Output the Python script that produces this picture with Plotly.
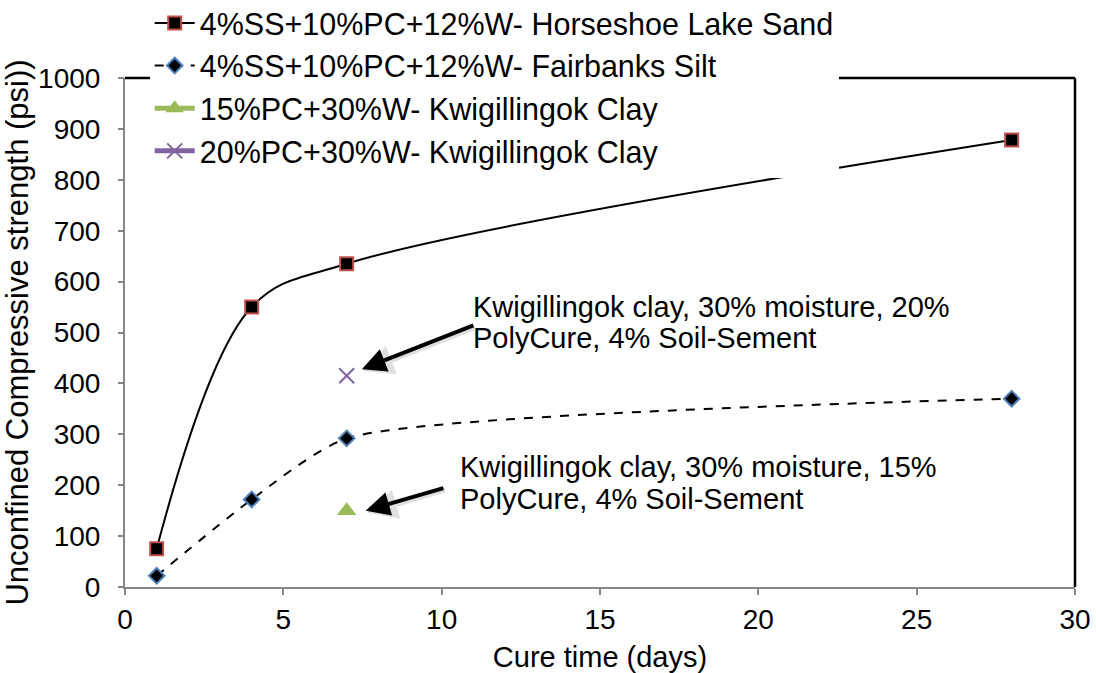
import plotly.graph_objects as go

days = [1, 4, 7, 28]
sand = [75, 550, 635, 878]
silt = [22, 172, 292, 370]
clay15_x = [7]
clay15_y = [150]
clay20_x = [7]
clay20_y = [415]

names = [
    "4%SS+10%PC+12%W- Horseshoe Lake Sand",
    "4%SS+10%PC+12%W- Fairbanks Silt",
    "15%PC+30%W- Kwigillingok Clay",
    "20%PC+30%W- Kwigillingok Clay",
]
note20 = ["Kwigillingok clay, 30% moisture, 20%", "PolyCure, 4% Soil-Sement"]
note15 = ["Kwigillingok clay, 30% moisture, 15%", "PolyCure, 4% Soil-Sement"]

FONT = "Liberation Sans, Arial, sans-serif"
GRAY = "#868686"

fig = go.Figure()
fig.add_trace(go.Scatter(
    x=days, y=sand, name=names[0], mode="lines+markers", legendgroup="a",
    line=dict(color="black", width=2, shape="spline", smoothing=1),
    marker=dict(symbol="square", size=13, color="black", line=dict(color="#C0504D", width=2)),
))
fig.add_trace(go.Scatter(
    x=days, y=silt, name=names[1], mode="lines+markers", legendgroup="b",
    line=dict(color="black", width=2, dash="dash", shape="spline", smoothing=0.6),
    marker=dict(symbol="diamond", size=12, color="black", line=dict(color="#4F81BD", width=2)),
))
fig.add_trace(go.Scatter(
    x=clay15_x, y=clay15_y, name=names[2], mode="lines+markers", legendgroup="c",
    line=dict(color="#9BBB59", width=5),
    marker=dict(symbol="triangle-up", size=17, color="#9BBB59"),
))
fig.add_trace(go.Scatter(
    x=clay20_x, y=clay20_y, name=names[3], mode="lines+markers", legendgroup="d",
    line=dict(color="#8064A2", width=5),
    marker=dict(symbol="x-thin", size=15, color="#8064A2", line=dict(color="#8064A2", width=2)),
))
# invisible helper trace so the tick-only overlay axis is drawn
fig.add_trace(go.Scatter(x=[days[0]], y=[silt[0]], yaxis="y2", mode="markers",
                         marker=dict(opacity=0), showlegend=False, hoverinfo="skip"))

# annotation texts, one line each for tight line spacing
for txt, yv in zip(note20, [550, 489]):
    fig.add_annotation(x=10.92, y=yv, xref="x", yref="y", text=txt, showarrow=False,
                       xanchor="left", yanchor="middle", align="left",
                       font=dict(family=FONT, size=29, color="black"))
for txt, yv in zip(note15, [236, 173]):
    fig.add_annotation(x=10.52, y=yv, xref="x", yref="y", text=txt, showarrow=False,
                       xanchor="left", yanchor="middle", align="left",
                       font=dict(family=FONT, size=29, color="black"))

# arrows with soft shadow
arrows = [((7.48, 428), (11.05, 515)), ((7.6, 150), (10.1, 195))]
for (hx, hy), (tx, ty) in arrows:
    fig.add_annotation(x=hx + 0.05, y=hy - 4, ax=tx + 0.05, ay=ty - 4, xref="x", yref="y",
                       axref="x", ayref="y", text="", showarrow=True, arrowhead=2,
                       arrowsize=1.2, arrowwidth=5, arrowcolor="rgba(0,0,0,0.12)")
    fig.add_annotation(x=hx, y=hy, ax=tx, ay=ty, xref="x", yref="y", axref="x", ayref="y",
                       text="", showarrow=True, arrowhead=2, arrowsize=1.2, arrowwidth=4,
                       arrowcolor="black")

# black frame top and right
fig.add_shape(type="line", xref="paper", yref="paper", x0=0, x1=1, y0=1, y1=1,
              line=dict(color="black", width=2.5))
fig.add_shape(type="line", xref="paper", yref="paper", x0=1, x1=1, y0=0, y1=1,
              line=dict(color="black", width=2.5))

fig.update_layout(
    width=1096, height=673,
    margin=dict(l=125, r=21, t=78, b=86, autoexpand=False),
    paper_bgcolor="white", plot_bgcolor="white",
    font=dict(family=FONT, size=28, color="black"),
    showlegend=True,
    legend=dict(x=0.026, y=1.16, xanchor="left", yanchor="top",
                bgcolor="white", borderwidth=0, font=dict(family=FONT, size=30.5),
                tracegroupgap=0, itemwidth=40),
    xaxis=dict(range=[0, 30], dtick=5, showgrid=False, zeroline=False,
               showline=True, linecolor=GRAY, linewidth=2,
               ticks="outside", ticklen=6, tickcolor=GRAY, tickwidth=2,
               tickfont=dict(size=28), automargin=False,
               title=dict(text="Cure time (days)", font=dict(size=29), standoff=14)),
    yaxis=dict(range=[0, 1000], dtick=100, showgrid=False, zeroline=False,
               showline=True, linecolor=GRAY, linewidth=2,
               ticks="outside", ticklen=17, tickcolor="rgba(255,255,255,0)", tickwidth=2,
               tickfont=dict(size=28), automargin=False,
               title=dict(text="Unconfined Compressive strength (psi))", font=dict(size=31), standoff=4)),
    yaxis2=dict(range=[0, 1000], dtick=100, overlaying="y", side="left",
                showgrid=False, zeroline=False, showline=False, showticklabels=False,
                ticks="outside", ticklen=6, tickcolor=GRAY, tickwidth=2, automargin=False),
)

fig.write_html("out.html")
